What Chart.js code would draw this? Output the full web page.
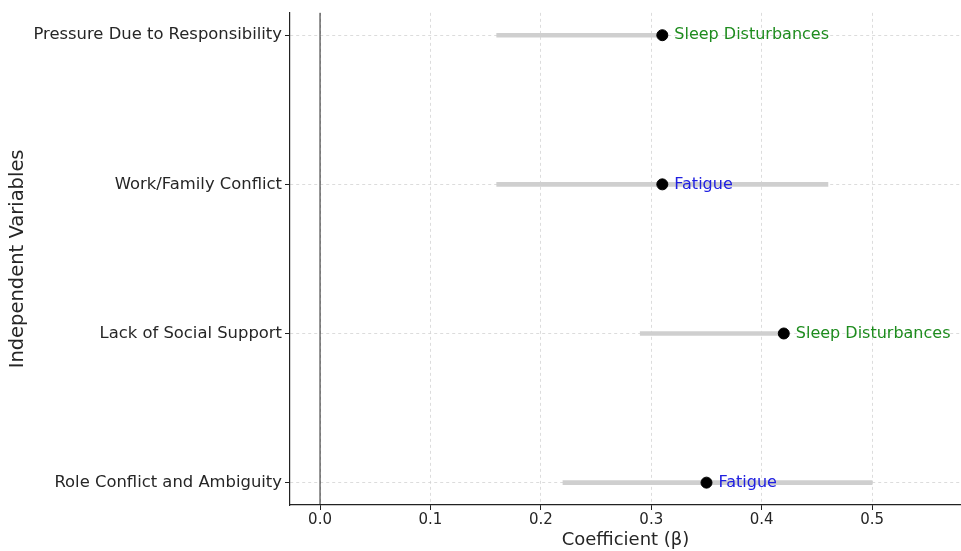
<!DOCTYPE html>
<html>
<head>
<meta charset="utf-8">
<script src="https://cdn.jsdelivr.net/npm/chart.js@4/dist/chart.umd.min.js"></script>
<style>
  body { margin: 0; background: #fff; }
  #wrap { width: 961px; height: 551px; }
</style>
</head>
<body>
<div id="wrap"><canvas id="forest"></canvas></div>
<script>
// categories listed top to bottom, as in the figure
const categories = ['Pressure Due to Responsibility', 'Work/Family Conflict', 'Lack of Social Support', 'Role Conflict and Ambiguity'];
const coefficients = [0.31, 0.31, 0.42, 0.35];
const ciLow = [0.16, 0.16, 0.29, 0.22];
const ciHigh = [0.31, 0.46, 0.42, 0.50];
const outcomes = ['Sleep Disturbances', 'Fatigue', 'Sleep Disturbances', 'Fatigue'];
const xTicks = [0, 0.1, 0.2, 0.3, 0.4, 0.5];

const outcomeColor = { 'Sleep Disturbances': '#1e8c1e', 'Fatigue': '#2020e0' };
const FONT = 'DejaVu Sans';

// y position: bottom category = 0
const yPos = i => categories.length - 1 - i;

const zeroLine = {
  id: 'zeroLine',
  beforeDatasetsDraw(chart) {
    const { ctx, chartArea, scales } = chart;
    const x = scales.x.getPixelForValue(0);
    ctx.save();
    ctx.strokeStyle = '#222';
    ctx.lineWidth = 1;
    ctx.beginPath();
    ctx.moveTo(x, chartArea.top);
    ctx.lineTo(x, chartArea.bottom);
    ctx.stroke();
    ctx.restore();
  }
};

const pointLabels = {
  id: 'pointLabels',
  afterDatasetsDraw(chart) {
    const { ctx } = chart;
    const meta = chart.getDatasetMeta(1);
    ctx.save();
    ctx.font = '16px "' + FONT + '"';
    ctx.textBaseline = 'middle';
    ctx.textAlign = 'left';
    meta.data.forEach((pt, i) => {
      ctx.fillStyle = outcomeColor[outcomes[i]];
      ctx.fillText(outcomes[i], pt.x + 12, pt.y);
    });
    ctx.restore();
  }
};

const gridOpts = {
  offset: false,
  color: '#d4d4d4',
  lineWidth: 0.8,
  tickLength: 5,
  tickColor: '#222',
  tickWidth: 1,
  tickBorderDash: []
};

new Chart(document.getElementById('forest'), {
  type: 'bar',
  data: {
    datasets: [
      {
        type: 'bar',
        indexAxis: 'y',
        data: categories.map((c, i) => ({ x: [ciLow[i], ciHigh[i]], y: yPos(i) })),
        backgroundColor: '#cfcfcf',
        barThickness: 4,
        grouped: false,
        order: 2
      },
      {
        type: 'scatter',
        data: categories.map((c, i) => ({ x: coefficients[i], y: yPos(i) })),
        backgroundColor: '#000',
        borderColor: '#000',
        pointRadius: 5.5,
        pointHoverRadius: 5.5,
        order: 1
      }
    ]
  },
  options: {
    responsive: true,
    maintainAspectRatio: false,
    animation: false,
    layout: { autoPadding: false, padding: { top: 10, right: 0, left: 0, bottom: 0 } },
    plugins: { legend: { display: false }, tooltip: { enabled: false } },
    scales: {
      x: {
        type: 'linear',
        position: 'bottom',
        offset: false,
        min: -0.0272,
        max: 0.5805,
        afterBuildTicks: s => { s.ticks = xTicks.map(v => ({ value: v })); },
        afterFit: s => { s.height = 46; s.paddingRight = 0; s.paddingLeft = 0; },
        ticks: {
          callback: v => Number(v).toFixed(1),
          color: '#262626',
          font: { family: FONT, size: 15 },
          padding: 1,
          maxRotation: 0
        },
        grid: gridOpts,
        border: { display: true, color: '#222', width: 1.2, dash: [3, 3] },
        title: {
          display: true,
          text: 'Coefficient (β)',
          color: '#262626',
          font: { family: FONT, size: 18 },
          padding: 0
        }
      },
      y: {
        type: 'linear',
        offset: false,
        min: -0.15,
        max: 3.15,
        afterBuildTicks: s => { s.ticks = categories.map((c, i) => ({ value: yPos(i) })); },
        afterFit: s => { s.width = 290; },
        ticks: {
          callback: v => categories[categories.length - 1 - v],
          color: '#262626',
          font: { family: FONT, size: 16.4 },
          padding: 3
        },
        grid: gridOpts,
        border: { display: true, color: '#222', width: 1.2, dash: [3, 3] },
        title: {
          display: true,
          text: 'Independent Variables',
          color: '#262626',
          font: { family: FONT, size: 19.5 },
          padding: { top: 6, bottom: 0 }
        }
      }
    }
  },
  plugins: [zeroLine, pointLabels]
});
</script>
</body>
</html>
